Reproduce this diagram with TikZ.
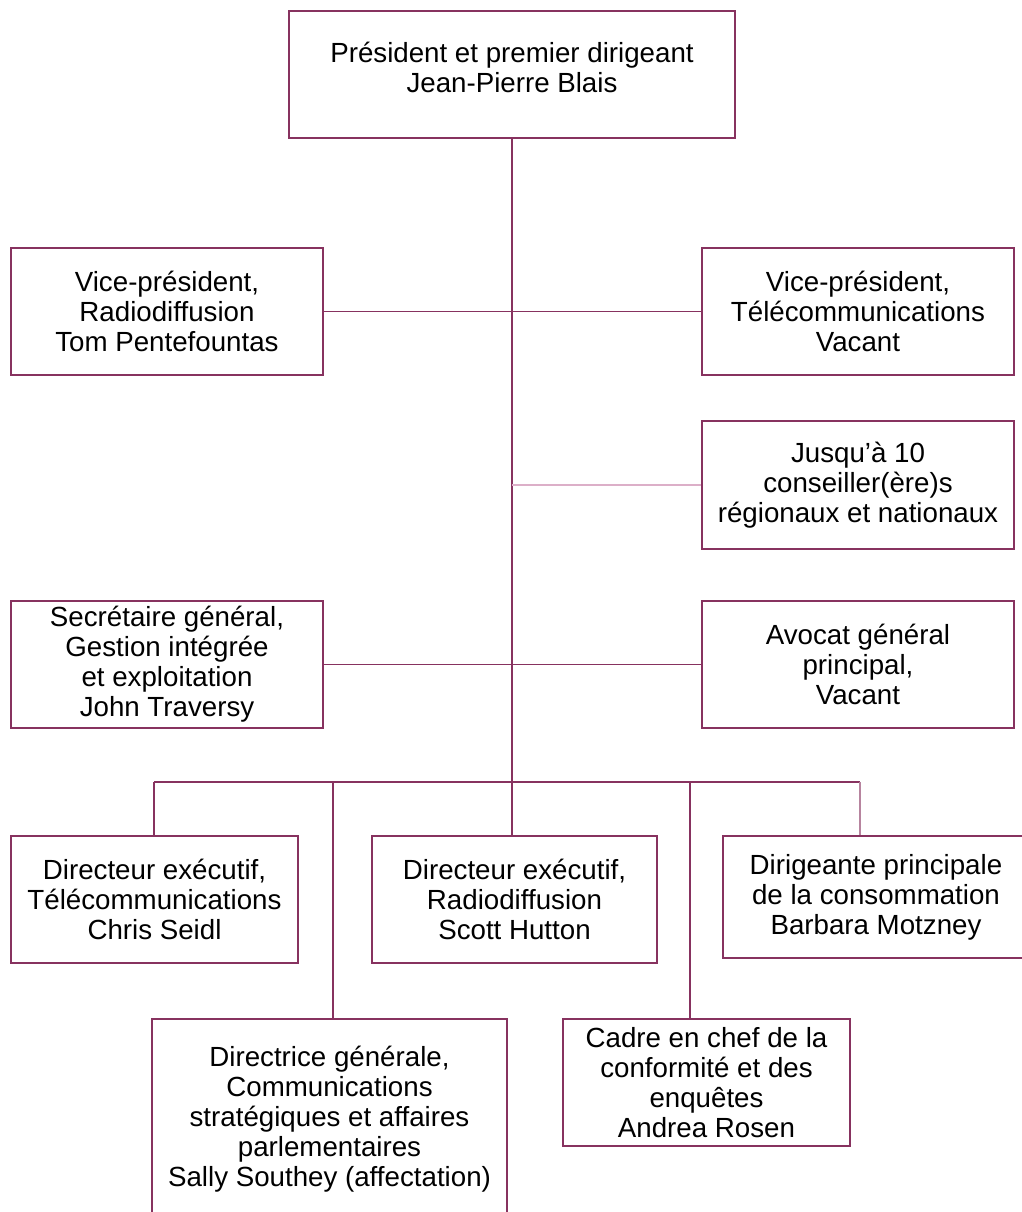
\documentclass[tikz,border=0pt]{standalone}
\usepackage{fontspec}
\setmainfont{Liberation Sans}
\usetikzlibrary{calc}
\definecolor{prune}{RGB}{135,50,95}
\definecolor{rose}{RGB}{220,175,200}

\begin{document}
\begin{tikzpicture}[x=0.5pt,y=-0.5pt,
	poste/.style={draw=prune,line width=0.9pt,fill=white,align=center,inner sep=0pt,
		font=\fontsize{13.85}{15}\selectfont},
	taille/.style 2 args={minimum width=#1*0.5pt,minimum height=#2*0.5pt},
	lien/.style={draw=prune,line width=0.6pt}]
		\clip (0,0) rectangle (1022,1212);
		
		% premier niveau
		\node[poste,taille={446}{127},text depth=7pt] (pres) at (512,74.5)
			{Président et premier dirigeant\\Jean-Pierre Blais};
		
		\node[poste,taille={312}{127}] (vpradio) at (167,311.5)
			{Vice-président,\\Radiodiffusion\\Tom Pentefountas};
		\node[poste,taille={312}{127}] (vptel) at (858,311.5)
			{Vice-président,\\Télécommunications\\Vacant};
		\node[poste,taille={312}{128}] (conseil) at (858,485)
			{Jusqu’à 10\\conseiller(ère)s\\régionaux et nationaux};
		\node[poste,taille={312}{127}] (secgen) at (167,664.5)
			{Secrétaire général,\\Gestion intégrée\\et exploitation\\John Traversy};
		\node[poste,taille={312}{127}] (avocat) at (858,664.5)
			{Avocat général\\principal,\\Vacant};
		
		% directions
		\node[poste,taille={287}{127}] (dirtel) at (154.5,899.5)
			{Directeur exécutif,\\Télécommunications\\Chris Seidl};
		\node[poste,taille={285}{127}] (dirradio) at (514.5,899.5)
			{Directeur exécutif,\\Radiodiffusion\\Scott Hutton};
		\node[poste,taille={306}{122}] (dirconso) at (876,897)
			{Dirigeante principale\\de la consommation\\Barbara Motzney};
		\node[poste,taille={355}{200}] (dircom) at (329.5,1119)
			{Directrice générale,\\Communications\\stratégiques et affaires\\parlementaires\\Sally Southey (affectation)};
		\node[poste,taille={287}{127}] (cadre) at (706.5,1082.5)
			{Cadre en chef de la\\conformité et des\\enquêtes\\Andrea Rosen};
		
		\coordinate (bus) at (512,782);
		\coordinate (busA) at (154,782);
		\coordinate (busB) at (333,782);
		\coordinate (busC) at (690,782);
		\coordinate (busD) at (860,782);
		
		\draw[lien] (pres.south) -- (bus);
		\draw[lien] (vpradio) -- (vptel);
		\draw[lien,draw=rose] (conseil.west) -- (conseil.west -| bus);
		\draw[lien] (secgen) -- (avocat);
		
		\draw[lien] (busA) -- (busD);
		\draw[lien] (busA) -- (busA |- dirtel.north);
		\draw[lien] (busB) -- (busB |- dircom.north);
		\draw[lien] (bus) -- (bus |- dirradio.north);
		\draw[lien] (busC) -- (busC |- cadre.north);
		\draw[lien,draw=prune!60] (busD) -- (busD |- dirconso.north);
\end{tikzpicture}
\end{document}
